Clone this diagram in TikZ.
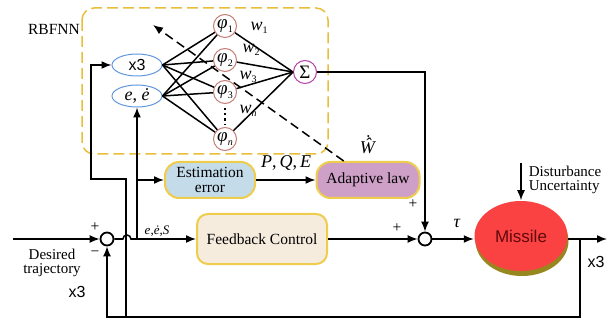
\documentclass[tikz,border=0pt]{standalone}
\usepackage{fontspec}
\setmainfont{Liberation Serif}
\setsansfont{Liberation Sans}
\usetikzlibrary{arrows.meta,shapes.geometric,shadows}
\definecolor{boxedge}{RGB}{238,204,76}
\definecolor{nnedge}{RGB}{232,190,60}
\definecolor{inedge}{RGB}{96,150,222}
\definecolor{phiedge}{RGB}{196,126,118}
\definecolor{sumedge}{RGB}{184,64,168}
\definecolor{estfill}{RGB}{196,219,233}
\definecolor{adafill}{RGB}{206,160,200}
\definecolor{fbfill}{RGB}{246,236,222}
\definecolor{misfill}{RGB}{250,66,66}
\definecolor{mistext}{RGB}{96,8,12}
\definecolor{misshade}{RGB}{150,136,30}
\newcommand{\lowsub}[1]{\raisebox{-0.45ex}{\fontsize{10}{10}\selectfont#1}}
\newcommand{\wdothat}{\ooalign{\textit{Ŵ}\cr\hidewidth\raisebox{0.34em}{˙}\kern-0.05em\hidewidth\cr}}
\begin{document}
\begin{tikzpicture}[x=1pt,y=-1pt,line width=1.5pt,>={Latex[length=10pt,width=8pt]},font=\fontsize{15.5}{15}\selectfont]
\tikzstyle{every node}+=[inner sep=0pt]
\tikzstyle{innode}=[ellipse,draw=inedge,line width=1pt,minimum width=50pt,minimum height=22pt]
\tikzstyle{phinode}=[circle,draw=phiedge,line width=1pt,minimum size=23pt,font=\fontsize{19}{19}\selectfont]
\tikzstyle{sumnode}=[circle,draw=sumedge,line width=1pt,minimum size=23pt,font=\fontsize{19}{19}\selectfont]
\tikzstyle{block}=[draw=boxedge,line width=2pt,rounded corners=14pt,align=center]
\tikzstyle{junc}=[circle,draw,line width=1.8pt,minimum size=13pt]
\tikzstyle{sans}=[font=\sffamily\fontsize{16}{16}\selectfont]
\tikzstyle{lbl}=[font=\fontsize{18}{18}\selectfont]
\useasboundingbox (0,0) rectangle (615,320);
\draw [nnedge,line width=1.5pt,dash pattern=on 11pt off 5pt,rounded corners=12pt] (82,8) rectangle (328,154);
\node (rbf) at (54,29) {RBFNN};
\node [innode,sans] (xin) at (137,65) {x3};
\node [innode,lbl] (ein) at (137,96) {\textit{e}, \textit{ė}};
\node [phinode] (p1) at (225,26) {\textit{φ}\lowsub{1}};
\node [phinode] (p2) at (225,60) {\textit{φ}\lowsub{2}};
\node [phinode] (p3) at (225,92) {\textit{φ}\lowsub{3}};
\node [phinode] (pn) at (225,139) {\textit{φ}\lowsub{\textit{n}}};
\node [sumnode] (sum) at (305,72) {Σ};
\draw (xin.east) -- (p1);
\draw (xin.east) -- (p2);
\draw (xin.east) -- (p3);
\draw (xin.east) -- (pn);
\draw (ein.east) -- (p1);
\draw (ein.east) -- (p2);
\draw (ein.east) -- (p3);
\draw (ein.east) -- (pn);
\draw (p1) -- (sum.west);
\draw (p2) -- (sum.west);
\draw (p3) -- (sum.west);
\draw (pn) -- (sum.west);
\draw [line width=2.2pt,dash pattern=on 2.2pt off 3pt,shorten <=4pt,shorten >=2pt] (p3) -- (pn);
\node [lbl] (w1) at (259,28) {\textit{w}\lowsub{1}};
\node [lbl] (w2) at (251,50) {\textit{w}\lowsub{2}};
\node [lbl] (w3) at (248,77) {\textit{w}\lowsub{3}};
\node [lbl] (wn) at (248,111) {\textit{w}\lowsub{\textit{n}}};
\node [block,fill=estfill,minimum width=90pt,minimum height=36pt] (est) at (210,180) {Estimation\\error};
\node [block,fill=adafill,minimum width=103pt,minimum height=36pt] (ada) at (368,180) {Adaptive law};
\node [block,fill=fbfill,minimum width=130pt,minimum height=50pt,rounded corners=11pt] (fb) at (262,239) {Feedback Control};
\node [junc] (s1) at (107,239) {};
\node [junc] (s2) at (425,239) {};
\node [ellipse,fill=misfill,minimum width=93pt,minimum height=70pt,drop shadow={shadow xshift=1pt,shadow yshift=-5pt,fill=misshade,opacity=1},font=\sffamily\fontsize{17}{17}\selectfont,text=mistext] (mis) at (521,236) {Missile};
\coordinate (din) at (13,239);
\coordinate (yo) at (580,239);
\coordinate (yout) at (607,239);
\coordinate (fb0) at (107,317);
\coordinate (xb) at (126,317);
\coordinate (xk) at (91,179);
\coordinate (eb) at (137,239);
\coordinate (dtop) at (521,163);
\coordinate (wtip) at (153,25);
\draw [->] (din) -- (s1);
\draw [->] (s1.east) -- ++(8.5,0) arc [start angle=180,end angle=360,radius=4] -- (fb.west);
\draw [->] (eb) -- (ein);
\draw [->] (eb |- est) -- (est);
\draw [->] (xb) |- (xk) |- (xin);
\draw [->] (yo) |- (fb0) -- (s1);
\draw [->] (s2) -- (s2 -| mis.west);
\draw [->] (yo -| mis.east) -- (yout);
\draw [->] (dtop) -- (mis);
\draw [->] (sum) -| (s2);
\draw [->] (fb) -- (s2);
\draw [->] (est) -- (ada);
\draw [dash pattern=on 9pt off 5pt,->] (ada.142) -- (wtip);
\node at (95,227) {+};
\node at (95,254) {−};
\node at (397,228) {+};
\node at (413,204) {+};
\node [lbl] at (457,223) {\textit{τ}};
\node [font=\fontsize{13}{13}\selectfont] at (157,231) {\textit{e},\textit{ė},\textit{S}};
\node [lbl] at (286,163) {\textit{P},\,\textit{Q},\,\textit{E}};
\node [lbl] at (368,146) {\wdothat};
\node [align=center,font=\fontsize{15}{14}\selectfont] (dtraj) at (52,263) {Desired\\trajectory};
\node [sans] at (77,292) {x3};
\node [sans] at (596,262) {x3};
\node [anchor=west,align=left,font=\fontsize{15}{13.5}\selectfont] (dist) at (528,180) {Disturbance\\Uncertainty};
\end{tikzpicture}
\end{document}
